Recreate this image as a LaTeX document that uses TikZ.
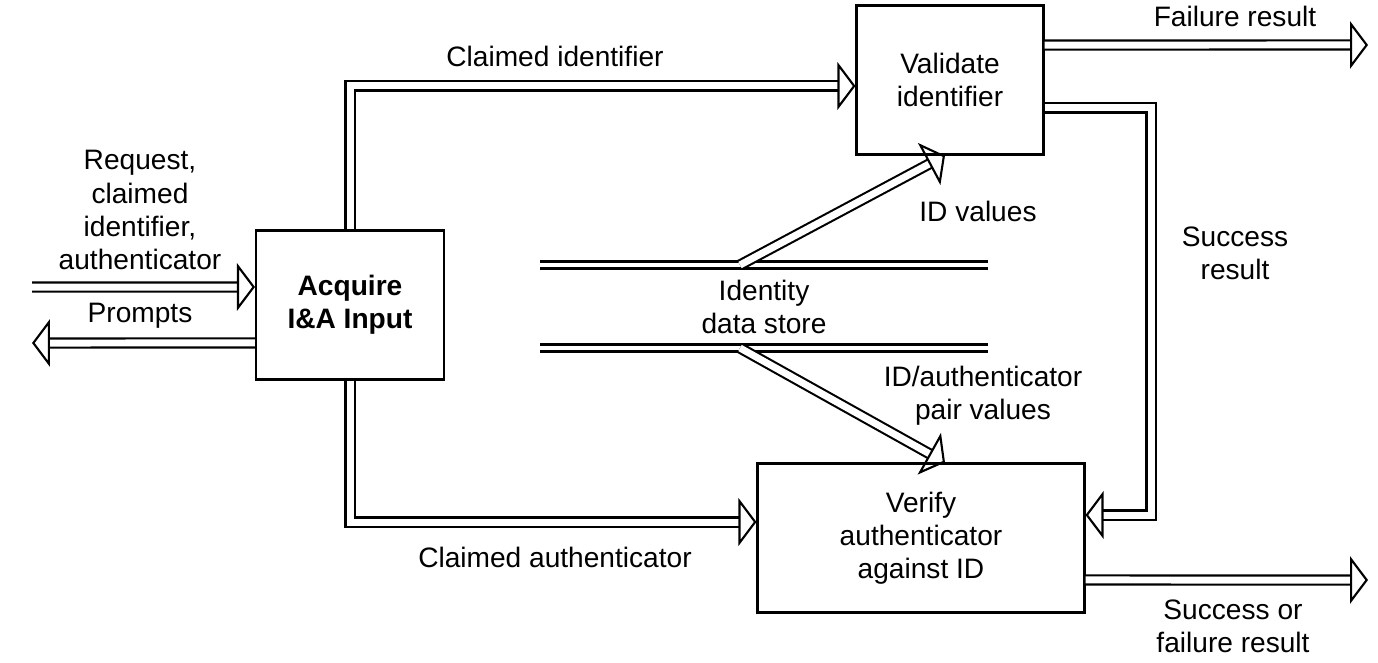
\documentclass[tikz,border=0pt]{standalone}
\usepackage{fontspec}
\setmainfont{Liberation Sans}
\usetikzlibrary{arrows.meta,positioning}
\tikzstyle{flow} = [double, double distance=0.14cm, line width=1.2pt, -{Triangle[open, length=0.36cm, width=0.95cm]}]
\tikzstyle{process} = [rectangle, draw, line width=1.2pt, minimum height=2.98cm, align=center, font=\fontsize{16}{18.8}\selectfont]
\tikzstyle{txt} = [align=center, inner sep=0pt, font=\fontsize{16}{18.8}\selectfont]
\tikzstyle{store} = [double, double distance=0.09cm, line width=1.3pt]

\begin{document}
\begin{tikzpicture}[x=0.02cm, y=-0.02cm]
\useasboundingbox (0,0) rectangle (1378,662);

% Process boxes
\node[process, minimum width=3.76cm, font=\fontsize{16}{18.8}\selectfont\bfseries] (acquire) at (350,305) {Acquire\\I\&A Input};
\node[process, minimum width=3.74cm] (valid) at (950,80) {Validate\\identifier};
\node[process, minimum width=6.54cm] (verify) at (921,538) {Verify\\authenticator\\against ID};

% Data store
\draw[store] (540,265) -- (988,265);
\draw[store] (540,348) -- (988,348);
\node[txt] (ids) at (764,307) {Identity\\data store};
\coordinate (storetop) at (740,265);
\coordinate (storebot) at (740,348);

% Free ends and bends
\coordinate (inbeg) at (32,287);
\coordinate (promptend) at (32,343);
\coordinate (failend) at (1368,45);
\coordinate (resend) at (1368,580);
\coordinate (succx) at (1151,300);

% Connectors
\draw[flow] (inbeg) -- ([yshift=0.36cm]acquire.west);
\draw[flow] ([yshift=-0.76cm]acquire.west) -- (promptend);
\draw[flow] (acquire.north) |- ([yshift=-0.12cm]valid.west);
\draw[flow] (acquire.south) |- ([yshift=0.32cm]verify.west);
\draw[flow] ([yshift=0.7cm]valid.east) -- (failend);
\draw[flow] ([yshift=-0.56cm]valid.east) -| (succx) |- ([yshift=0.46cm]verify.east);
\draw[flow] ([yshift=-0.84cm]verify.east) -- (resend);
\draw[flow] (storetop) -- ([xshift=-0.1cm]valid.south);
\draw[flow] (storebot) -- ([xshift=0.48cm]verify.north);

% Labels
\node[txt] (lreq) at (140,210) {Request,\\claimed\\identifier,\\authenticator};
\node[txt] (lprompt) at (140,316) {Prompts};
\node[txt] (lcid) at (555,56) {Claimed identifier};
\node[txt] (lcauth) at (555,557) {Claimed authenticator};
\node[txt] (lidv) at (978,211) {ID values};
\node[txt] (lpair) at (983,396) {ID/authenticator\\pair values};
\node[txt] (lfail) at (1235,16) {Failure result};
\node[txt] (lsucc) at (1235,253) {Success\\result};
\node[txt] (lres) at (1233,626) {Success or\\failure result};
\end{tikzpicture}
\end{document}
